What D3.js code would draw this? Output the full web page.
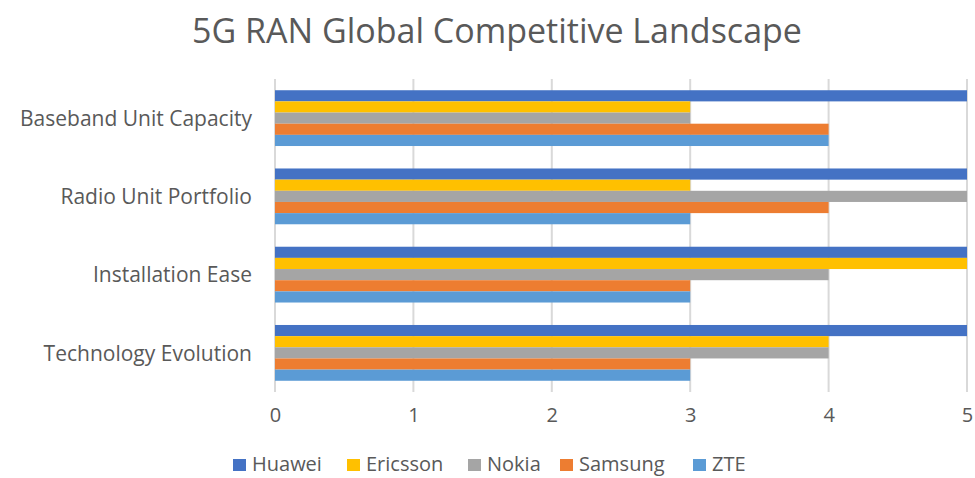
<!DOCTYPE html>
<html>
<head>
<meta charset="utf-8">
<script src="https://cdn.jsdelivr.net/npm/d3@7"></script>
<style>
  body { margin: 0; background: #fff; overflow: hidden; }
  text { font-family: "Open Sans", "Noto Sans", sans-serif; fill: #595959; }
</style>
</head>
<body>
<div id="chart"></div>
<script>
var categories = ["Baseband Unit Capacity", "Radio Unit Portfolio", "Installation Ease", "Technology Evolution"];
var series = ["Huawei", "Ericsson", "Nokia", "Samsung", "ZTE"];
var colors = ["#4472C4", "#FFC000", "#A5A5A5", "#ED7D31", "#5B9BD5"];
// one array per vendor, same order as categories
var huawei = [5, 5, 5, 5];
var ericsson = [3, 3, 5, 4];
var nokia = [3, 5, 4, 4];
var samsung = [4, 4, 3, 3];
var zte = [4, 3, 3, 3];
var xTicks = [0, 1, 2, 3, 4, 5];

var values = [huawei, ericsson, nokia, samsung, zte];

var width = 975, height = 478;
var plotLeft = 275, plotRight = 967, plotTop = 79, plotBottom = 392;

var svg = d3.select("#chart").append("svg")
  .attr("width", width)
  .attr("height", height);

var x = d3.scaleLinear().domain([0, 5]).range([plotLeft, plotRight]);
var y = d3.scaleBand().domain(categories).range([plotTop, plotBottom])
  .paddingInner(0.287).paddingOuter(0.1435);
var ySub = d3.scaleBand().domain(series).range([0, y.bandwidth()]);

// gridlines
svg.append("g")
  .selectAll("line")
  .data(xTicks)
  .join("line")
    .attr("x1", d => x(d))
    .attr("x2", d => x(d))
    .attr("y1", plotTop)
    .attr("y2", plotBottom)
    .style("stroke", "#d9d9d9")
    .style("stroke-width", 2);

// bars
categories.forEach(function(cat, ci) {
  var g = svg.append("g").attr("transform", "translate(0," + y(cat) + ")");
  series.forEach(function(s, si) {
    g.append("rect")
      .attr("x", x(0))
      .attr("y", ySub(s))
      .attr("width", x(values[si][ci]) - x(0))
      .attr("height", ySub.bandwidth())
      .attr("fill", colors[si]);
  });
});

// x axis labels
var xAxis = svg.append("g")
  .attr("transform", "translate(0," + plotBottom + ")")
  .call(d3.axisBottom(x).tickValues(xTicks).tickFormat(d3.format("d")).tickSize(0).tickPadding(16));
xAxis.select(".domain").remove();
xAxis.selectAll("text")
  .style("font-size", "20px")
  .style("fill", "#595959")
  .style("font-family", "'Open Sans', sans-serif");

// y axis labels
var yAxis = svg.append("g")
  .attr("transform", "translate(" + (plotLeft - 23) + ",1)")
  .call(d3.axisLeft(y).tickSize(0).tickPadding(0));
yAxis.select(".domain").remove();
yAxis.selectAll("text")
  .style("font-size", "21px")
  .style("fill", "#595959")
  .style("font-family", "'Open Sans', sans-serif");

// title
svg.append("text")
  .attr("x", 497)
  .attr("y", 43)
  .attr("text-anchor", "middle")
  .style("font-size", "34px")
  .text("5G RAN Global Competitive Landscape");

// legend
var legendX = [233, 347, 468, 560, 693];
var legend = svg.append("g");
series.forEach(function(s, i) {
  legend.append("rect")
    .attr("x", legendX[i])
    .attr("y", 459)
    .attr("width", 13)
    .attr("height", 12)
    .attr("fill", colors[i]);
  legend.append("text")
    .attr("x", legendX[i] + 19)
    .attr("y", 471)
    .style("font-size", "20px")
    .text(s);
});
</script>
</body>
</html>
